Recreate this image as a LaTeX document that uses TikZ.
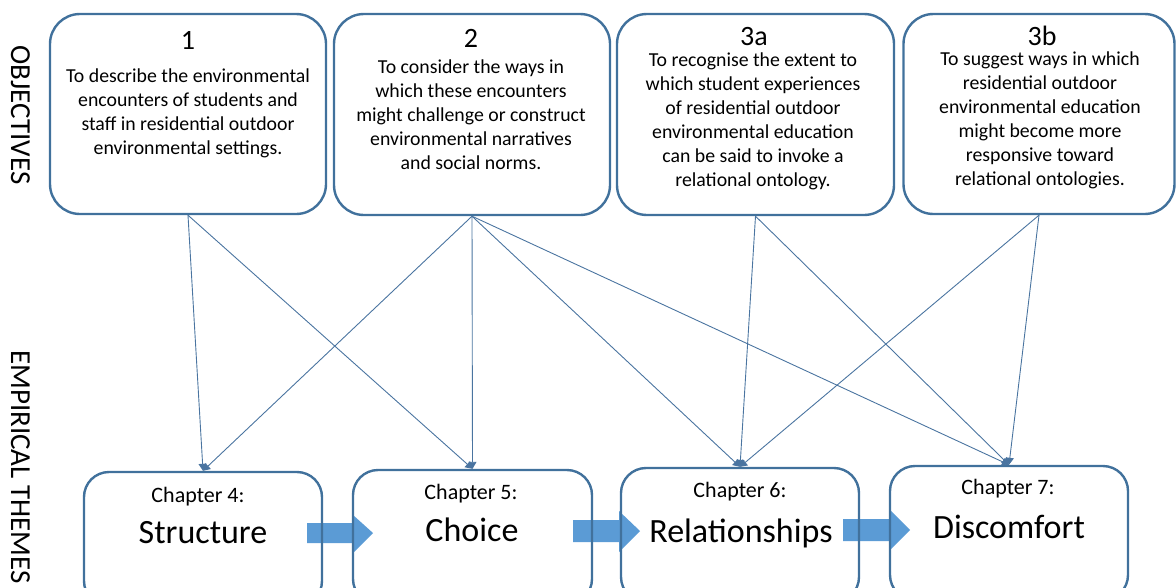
\documentclass[tikz,border=0pt]{standalone}
\usepackage{fontspec}
\setmainfont{Carlito}
\usetikzlibrary{arrows.meta}
\definecolor{boxblue}{HTML}{41719C}
\definecolor{fillblue}{HTML}{5B9BD5}
\definecolor{connblue}{HTML}{4A74A0}
\begin{document}
\begin{tikzpicture}[x=1pt,y=-1pt,
  objbox/.style={draw=boxblue, line width=2.4pt, rounded corners=30pt, minimum height=200pt, inner sep=0pt},
  chapbox/.style={draw=boxblue, line width=2.4pt, rounded corners=25pt, minimum width=238pt, minimum height=134pt, inner sep=0pt},
  numtext/.style={anchor=base, inner sep=0pt, font=\fontsize{28}{32}\selectfont},
  objtext/.style={anchor=north, inner sep=0pt, align=center, font=\fontsize{19.8}{24}\selectfont},
  chaptext/.style={anchor=base, inner sep=0pt, font=\fontsize{22}{26}\selectfont},
  themetext/.style={anchor=base, inner sep=0pt, font=\fontsize{34}{40}\selectfont},
  sidetext/.style={rotate=-90, inner sep=0pt, font=\fontsize{29}{34}\selectfont},
  conn/.style={draw=connblue, line width=0.9pt, -{Triangle[length=7pt,width=8pt]}},
  blockarrow/.style={fill=fillblue}
]
\useasboundingbox (0,0) rectangle (1176,587);

% side labels
\node[sidetext, anchor=base] (lobj) at (11,115) {OBJECTIVES};
\node[sidetext, anchor=base west] (lemp) at (11,350) {EMPIRICAL THEMES};

% block arrows (behind the box borders)
\fill[blockarrow] (307,523) -- (353,523) -- (353,515) -- (373,533) -- (353,553) -- (353,543) -- (307,543) -- cycle;
\fill[blockarrow] (573,520) -- (619,520) -- (619,511) -- (640,531) -- (619,552) -- (619,542) -- (573,542) -- cycle;
\fill[blockarrow] (843,519) -- (889,519) -- (889,509) -- (910,530) -- (889,551) -- (889,541) -- (843,541) -- cycle;

% objective boxes
\node[objbox, minimum width=276pt] (o1) at (188,114) {};
\node[objbox, minimum width=276pt, minimum height=201pt] (o2) at (472,114.5) {};
\node[objbox, minimum width=277pt, minimum height=201pt] (o3a) at (755.5,114.5) {};
\node[objbox, minimum width=271pt] (o3b) at (1039,114) {};

\node[numtext] (n1) at (188,49) {1};
\node[numtext] (n2) at (471,47) {2};
\node[numtext] (n3a) at (754,45) {3a};
\node[numtext] (n3b) at (1042,45) {3b};

\node[objtext] (t1) at (188,66) {\rule{0pt}{16pt}To describe the environmental\\encounters of students and\\staff in residential outdoor\\environmental settings.};
\node[objtext] (t2) at (471,57) {\rule{0pt}{16pt}To consider the ways in\\which these encounters\\might challenge or construct\\environmental narratives\\and social norms.};
\node[objtext] (t3a) at (753,50) {\rule{0pt}{16pt}To recognise the extent to\\which student experiences\\of residential outdoor\\environmental education\\can be said to invoke a\\relational ontology.};
\node[objtext] (t3b) at (1040,49) {\rule{0pt}{16pt}To suggest ways in which\\residential outdoor\\environmental education\\might become more\\responsive toward\\relational ontologies.};

% chapter boxes
\node[chapbox] (c4) at (203,539) {};
\node[chapbox, minimum width=239pt] (c5) at (472.5,537) {};
\node[chapbox] (c6) at (740,535) {};
\node[chapbox] (c7) at (1009,533) {};

\node[chaptext] (h4) at (198,502) {Chapter 4:};
\node[themetext] (w4) at (203,543) {Structure};
\node[chaptext] (h5) at (471,499) {Chapter 5:};
\node[themetext] (w5) at (472,541) {Choice};
\node[chaptext] (h6) at (740,497) {Chapter 6:};
\node[themetext] (w6) at (741,542) {Relationships};
\node[chaptext] (h7) at (1008,494) {Chapter 7:};
\node[themetext] (w7) at (1009,538) {Discomfort};

% connectors
\draw[conn] (o1.south) -- (c4.north);
\draw[conn] (o1.south) -- (c5.north);
\draw[conn] (o2.south) -- (c4.north);
\draw[conn] (o2.south) -- (c5.north);
\draw[conn] (o2.south) -- (c6.north);
\draw[conn] (o2.south) -- (c7.north);
\draw[conn] (o3a.south) -- (c6.north);
\draw[conn] (o3a.south) -- (c7.north);
\draw[conn] (o3b.south) -- (c6.north);
\draw[conn] (o3b.south) -- (c7.north);
\end{tikzpicture}
\end{document}
